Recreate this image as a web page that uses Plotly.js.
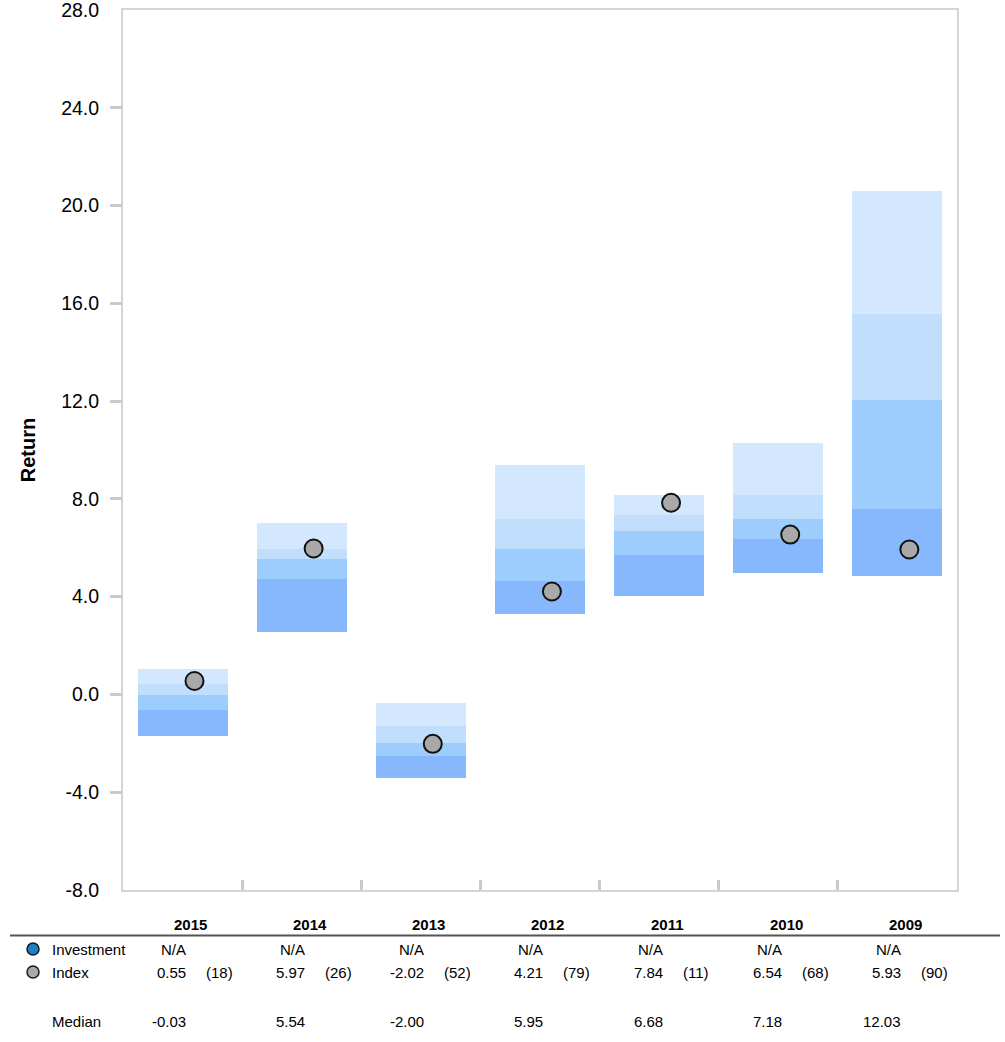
<!DOCTYPE html>
<html>
<head>
<meta charset="utf-8">
<script src="https://cdn.plot.ly/plotly-3.0.1.min.js"></script>
<style>
  html, body { margin: 0; padding: 0; background: #ffffff; }
  #chart { width: 1005px; height: 1042px; }
</style>
</head>
<body>
<div id="chart"></div>
<script>
// ---- data ----
const years = ['2015', '2014', '2013', '2012', '2011', '2010', '2009'];
const pct5   = [1.06, 7.02, -0.33, 9.39, 8.16, 10.29, 20.61];
const pct25  = [0.42, 5.96, -1.31, 7.18, 7.35, 8.17, 15.55];
const median = [-0.03, 5.54, -2.00, 5.95, 6.68, 7.18, 12.03];
const pct75  = [-0.64, 4.73, -2.52, 4.65, 5.71, 6.37, 7.59];
const pct95  = [-1.70, 2.54, -3.42, 3.28, 4.01, 4.98, 4.83];
const indexReturn = [0.55, 5.97, -2.02, 4.21, 7.84, 6.54, 5.93];
const indexRank   = [18, 26, 52, 79, 11, 68, 90];
const investmentReturn = ['N/A', 'N/A', 'N/A', 'N/A', 'N/A', 'N/A', 'N/A'];
const medianText = ['-0.03', '5.54', '-2.00', '5.95', '6.68', '7.18', '12.03'];
const yTickVals = [-8, -4, 0, 4, 8, 12, 16, 20, 24, 28];
const yTickMarks = [-4, 0, 4, 8, 12, 16, 20, 24];
const rowLabels = ['Investment', 'Index', 'Median'];

// ---- styling ----
const FONT = 'Liberation Sans, Arial, Helvetica, sans-serif';
const bandColors = ['#87b8fd', '#9dcdfd', '#c1dffd', '#d3e8fe'];
const axisGray = '#d4d4d4';
const tickGray = '#c6cbd2';
const xs = years.map((_, i) => i);
const dotOffset = 0.1;
const barWidth = 0.756;

// floating band segments (bottom -> top)
const bounds = [pct95, pct75, median, pct25, pct5];
const traces = [];
for (let k = 0; k < 4; k++) {
  const lo = bounds[k], hi = bounds[k + 1];
  traces.push({
    type: 'bar',
    x: xs,
    base: lo,
    y: hi.map((v, i) => v - lo[i]),
    width: barWidth,
    marker: { color: bandColors[k], line: { width: 0 } },
    hoverinfo: 'skip',
    showlegend: false
  });
}
traces.push({
  type: 'scatter',
  mode: 'markers',
  x: xs.map(v => v + dotOffset),
  y: indexReturn,
  marker: { size: 18, color: '#a9a9a9', line: { color: '#111111', width: 2 } },
  hoverinfo: 'skip',
  showlegend: false,
  cliponaxis: false
});
// invisible trace to host second y axis (tick marks only)
traces.push({
  type: 'scatter', mode: 'markers', x: [0], y: [0], yaxis: 'y2',
  marker: { opacity: 0 }, hoverinfo: 'skip', showlegend: false
});

// ---- table below the plot ----
const plotTop = 10, plotBottom = 890, plotLeft = 123, plotRight = 957;
const ph = plotBottom - plotTop, pw = plotRight - plotLeft;
const py = p => (plotBottom - p) / ph;
const px = p => (p - plotLeft) / pw;

const annotations = [];
const rowY = { year: py(924), inv: py(949), idx: py(972), med: py(1021) };
years.forEach((yr, i) => {
  annotations.push({ xref: 'x', yref: 'paper', x: i + 0.067, y: rowY.year, text: '<b>' + yr + '</b>',
    showarrow: false, xanchor: 'center', yanchor: 'middle', font: { family: FONT, size: 15, color: '#000' } });
  annotations.push({ xref: 'x', yref: 'paper', x: i + 0.045, y: rowY.inv, text: investmentReturn[i],
    showarrow: false, xanchor: 'right', yanchor: 'middle', font: { family: FONT, size: 15, color: '#000' } });
  annotations.push({ xref: 'x', yref: 'paper', x: i + 0.045, y: rowY.idx, text: indexReturn[i].toFixed(2),
    showarrow: false, xanchor: 'right', yanchor: 'middle', font: { family: FONT, size: 15, color: '#000' } });
  annotations.push({ xref: 'x', yref: 'paper', x: i + 0.18, y: rowY.idx, text: '(' + indexRank[i] + ')',
    showarrow: false, xanchor: 'left', yanchor: 'middle', font: { family: FONT, size: 15, color: '#000' } });
  annotations.push({ xref: 'x', yref: 'paper', x: i + 0.045, y: rowY.med, text: medianText[i],
    showarrow: false, xanchor: 'right', yanchor: 'middle', font: { family: FONT, size: 15, color: '#000' } });
});
[rowY.inv, rowY.idx, rowY.med].forEach((yy, k) => {
  annotations.push({ xref: 'paper', yref: 'paper', x: px(50), y: yy, text: rowLabels[k],
    showarrow: false, xanchor: 'left', yanchor: 'middle', font: { family: FONT, size: 15, color: '#000' } });
});

const shapes = [
  { type: 'line', xref: 'paper', yref: 'paper', x0: px(10), x1: px(1000), y0: py(935.5), y1: py(935.5),
    line: { color: '#555555', width: 2 } },
  { type: 'circle', xref: 'paper', yref: 'paper', xsizemode: 'pixel', ysizemode: 'pixel',
    xanchor: px(33), yanchor: rowY.inv, x0: -6, x1: 6, y0: -6, y1: 6,
    fillcolor: '#1a7fc4', line: { color: '#1a1a1a', width: 1.5 } },
  { type: 'circle', xref: 'paper', yref: 'paper', xsizemode: 'pixel', ysizemode: 'pixel',
    xanchor: px(33), yanchor: rowY.idx, x0: -6, x1: 6, y0: -6, y1: 6,
    fillcolor: '#a9a9a9', line: { color: '#1a1a1a', width: 1.5 } }
];

const layout = {
  width: 1005, height: 1042,
  margin: { l: plotLeft, r: 1005 - plotRight, t: plotTop, b: 1042 - plotBottom, pad: 0 },
  paper_bgcolor: '#ffffff', plot_bgcolor: '#ffffff',
  barmode: 'overlay', bargap: 0,
  showlegend: false,
  font: { family: FONT, color: '#000' },
  xaxis: {
    range: [-0.5, 6.5], fixedrange: true,
    showgrid: false, zeroline: false,
    showline: true, linecolor: axisGray, linewidth: 2, mirror: true,
    tickvals: [0.5, 1.5, 2.5, 3.5, 4.5, 5.5], showticklabels: false,
    ticks: 'inside', ticklen: 10, tickwidth: 3, tickcolor: tickGray
  },
  yaxis: {
    range: [-8, 28], fixedrange: true,
    showgrid: false, zeroline: false,
    showline: true, linecolor: axisGray, linewidth: 2, mirror: true,
    tickvals: yTickVals, ticktext: yTickVals.map(v => v.toFixed(1)),
    ticks: 'outside', ticklen: 18, tickcolor: 'rgba(0,0,0,0)',
    ticklabeloverflow: 'allow',
    tickfont: { family: FONT, size: 19.5, color: '#000' },
    title: { text: '<b>Return</b>', font: { family: FONT, size: 20, color: '#000' }, standoff: 20 }
  },
  yaxis2: {
    overlaying: 'y', side: 'left', range: [-8, 28], fixedrange: true,
    showgrid: false, zeroline: false, showline: false,
    tickvals: yTickMarks, showticklabels: false,
    ticks: 'outside', ticklen: 12, tickwidth: 3, tickcolor: tickGray
  },
  annotations: annotations,
  shapes: shapes
};

Plotly.newPlot('chart', traces, layout, { staticPlot: true, displayModeBar: false });
</script>
</body>
</html>
